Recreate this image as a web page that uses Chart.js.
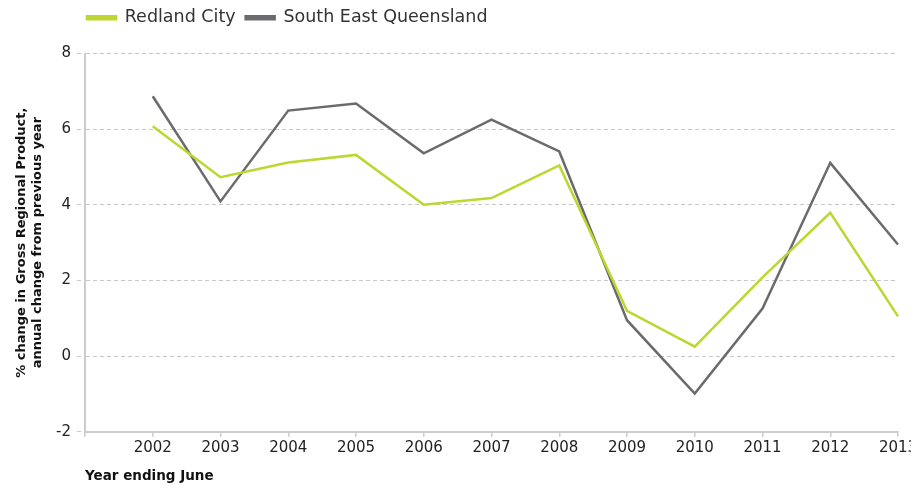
<!DOCTYPE html>
<html>
<head>
<meta charset="utf-8">
<script src="https://cdn.jsdelivr.net/npm/chart.js@4.4.0/dist/chart.umd.min.js"></script>
<style>
  html, body { margin: 0; padding: 0; background: #fff; }
  #wrap { width: 911px; height: 485px; position: relative; }
</style>
</head>
<body>
<div id="wrap"><canvas id="c"></canvas></div>
<script>
const years = ['2002','2003','2004','2005','2006','2007','2008','2009','2010','2011','2012','2013'];
const redlandCity = [6.08, 4.73, 5.12, 5.32, 4.00, 4.18, 5.04, 1.20, 0.25, 2.08, 3.79, 1.05];
const southEastQld = [6.87, 4.09, 6.49, 6.68, 5.36, 6.25, 5.41, 0.95, -0.99, 1.26, 5.11, 2.95];
const yTicks = [-2, 0, 2, 4, 6, 8];

const FONT = "'DejaVu Sans', sans-serif";
const labels = [''].concat(years);

const legendShift = {
  id: 'legendShift',
  beforeLayout(chart) {
    const lg = chart.legend;
    if (lg && !lg._patched) {
      const f = lg.fit.bind(lg);
      lg.fit = function () { f(); this.height += 16; };
      lg._patched = true;
    }
  },
  afterLayout(chart) {
    const lg = chart.legend;
    if (lg) { lg.left = chart.chartArea.left - 8; lg.top = -1; }
  }
};

new Chart(document.getElementById('c'), {
  type: 'line',
  data: {
    labels: labels,
    datasets: [
      { label: 'Redland City', data: [null].concat(redlandCity), borderColor: '#bdd630', backgroundColor: '#bdd630', borderWidth: 2.5, pointRadius: 0, tension: 0 },
      { label: 'South East Queensland', data: [null].concat(southEastQld), borderColor: '#6b6b6e', backgroundColor: '#6b6b6e', borderWidth: 2.5, pointRadius: 0, tension: 0 }
    ]
  },
  options: {
    responsive: true,
    maintainAspectRatio: false,
    animation: false,
    layout: { padding: { left: 14, right: 0, top: 0, bottom: 0 } },
    plugins: {
      tooltip: { enabled: false },
      legend: {
        display: true,
        position: 'top',
        align: 'start',
        labels: {
          boxWidth: 29,
          boxHeight: 3,
          padding: 10,
          color: '#333',
          font: { family: FONT, size: 17.5 }
        }
      }
    },
    scales: {
      x: {
        type: 'category',
        offset: false,
        border: { display: true, color: '#cccccc', width: 2 },
        grid: { drawOnChartArea: false, drawTicks: true, tickLength: 5, color: '#cccccc', lineWidth: 1.5 },
        ticks: { color: '#222', font: { family: FONT, size: 15 }, padding: 2, maxRotation: 0, autoSkip: false },
        title: { display: true, text: 'Year ending June', align: 'start', color: '#111', font: { family: FONT, size: 13.5, weight: 'bold' }, padding: { top: 10, bottom: 0 } },
        afterFit(scale) { scale.paddingRight = 13; }
      },
      y: {
        min: -2, max: 8,
        afterBuildTicks(scale) { scale.ticks = yTicks.map(v => ({ value: v })); },
        border: { display: true, color: '#cccccc', width: 2, dash: [4, 3] },
        grid: { color: '#c8c8c8', lineWidth: 1, tickLength: 8, drawTicks: true, tickBorderDash: [4, 3] },
        ticks: { color: '#222', font: { family: FONT, size: 15 }, padding: 6 },
        title: { display: true, text: ['% change in Gross Regional Product,', 'annual change from previous year'], color: '#111', font: { family: FONT, size: 13, weight: 'bold' }, padding: { top: 0, bottom: 6 } },
        afterFit(scale) { scale.width = 71; }
      }
    }
  },
  plugins: [legendShift]
});
</script>
</body>
</html>
